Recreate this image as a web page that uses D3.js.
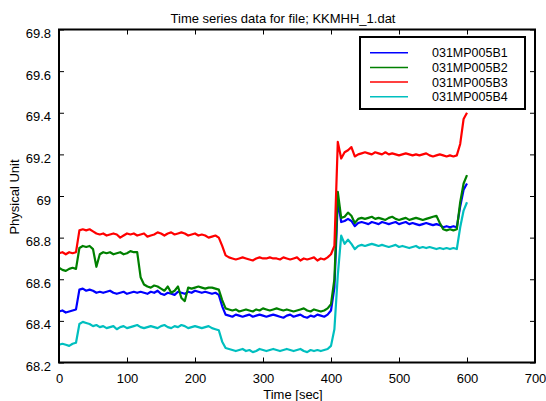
<!DOCTYPE html>
<html lang="en">
<head>
  <meta charset="UTF-8" />
  <title>Time series data for file; KKMHH_1.dat</title>
  <script src="https://d3js.org/d3.v7.min.js"></script>
  <style>
    html, body { margin: 0; padding: 0; background: #fff; }
    svg { display: block; font-family: "Liberation Sans", Arial, sans-serif; }
    .series { fill: none; stroke-width: 2.2; stroke-linejoin: round; }
    .tick line { stroke: #000; stroke-width: 1; }
    .tick text { font-size: 13px; fill: #000; }
  </style>
</head>
<body>
  <div id="chart"></div>

  <script>
    // x ticks and y tick labels as drawn in the figure
    const xTicks = [0, 100, 200, 300, 400, 500, 600, 700];
    const yTicks = [68.2, 68.4, 68.6, 68.8, 69.0, 69.2, 69.4, 69.6, 69.8];
    const yTickLabels = ["68.2", "68.4", "68.6", "68.8", "69", "69.2", "69.4", "69.6", "69.8"];

    const seriesNames = ["031MP005B1", "031MP005B2", "031MP005B3", "031MP005B4"];
    const seriesColors = ["#0000ff", "#008000", "#ff0000", "#00bfbf"];

    // sample times, every 5 sec from 0 to 600
    const timeSec = d3.range(0, 601, 5);

    // values (one per sample time)
    const b1 = [
      68.445, 68.45, 68.44, 68.445, 68.45, 68.455, 68.55, 68.555, 68.545, 68.55,
      68.545, 68.535, 68.54, 68.535, 68.54, 68.545, 68.535, 68.53, 68.535, 68.54,
      68.53, 68.535, 68.54, 68.535, 68.54, 68.535, 68.53, 68.54, 68.535, 68.545,
      68.53, 68.525, 68.535, 68.53, 68.525, 68.54, 68.535, 68.53, 68.54, 68.535,
      68.545, 68.54, 68.535, 68.54, 68.535, 68.53, 68.535, 68.525, 68.47, 68.43,
      68.425, 68.42, 68.43, 68.425, 68.42, 68.425, 68.43, 68.42, 68.425, 68.43,
      68.425, 68.42, 68.425, 68.43, 68.425, 68.42, 68.415, 68.425, 68.43, 68.42,
      68.425, 68.43, 68.42, 68.415, 68.425, 68.42, 68.43, 68.425, 68.42, 68.43,
      68.45, 68.56, 68.98, 68.875, 68.88, 68.89, 68.88, 68.855, 68.87, 68.875,
      68.87, 68.865, 68.875, 68.87, 68.865, 68.875, 68.87, 68.865, 68.87, 68.875,
      68.865, 68.87, 68.875, 68.865, 68.87, 68.865, 68.86, 68.865, 68.87, 68.865,
      68.86, 68.865, 68.86, 68.85, 68.855, 68.85, 68.855, 68.85, 68.95, 69.03,
      69.06
    ];
    const b2 = [
      68.655, 68.645, 68.64, 68.65, 68.655, 68.65, 68.75, 68.76, 68.755, 68.76,
      68.745, 68.66, 68.72, 68.73, 68.725, 68.73, 68.72, 68.725, 68.73, 68.72,
      68.725, 68.735, 68.73, 68.73, 68.61, 68.575, 68.565, 68.56, 68.57, 68.565,
      68.555, 68.545, 68.565, 68.535, 68.545, 68.565, 68.51, 68.495, 68.56, 68.555,
      68.56, 68.565, 68.56, 68.555, 68.56, 68.56, 68.555, 68.55, 68.50, 68.46,
      68.455, 68.45, 68.455, 68.445, 68.45, 68.455, 68.45, 68.445, 68.455, 68.45,
      68.46, 68.455, 68.45, 68.455, 68.46, 68.455, 68.45, 68.455, 68.45, 68.445,
      68.45, 68.455, 68.46, 68.45, 68.445, 68.455, 68.45, 68.445, 68.45, 68.46,
      68.48, 68.60, 69.02, 68.895, 68.90, 68.92, 68.905, 68.87, 68.89, 68.895,
      68.89, 68.895, 68.90, 68.89, 68.895, 68.89, 68.885, 68.895, 68.90, 68.89,
      68.885, 68.89, 68.895, 68.885, 68.89, 68.895, 68.89, 68.885, 68.89, 68.895,
      68.90, 68.905, 68.87, 68.84, 68.835, 68.84, 68.835, 68.84, 68.97, 69.06,
      69.10
    ];
    const b3 = [
      68.725, 68.73, 68.72, 68.73, 68.725, 68.73, 68.835, 68.84, 68.835, 68.84,
      68.83, 68.82, 68.815, 68.82, 68.81, 68.815, 68.82, 68.815, 68.80, 68.81,
      68.82, 68.815, 68.82, 68.81, 68.815, 68.82, 68.805, 68.81, 68.815, 68.825,
      68.82, 68.81, 68.82, 68.825, 68.815, 68.82, 68.825, 68.82, 68.81, 68.815,
      68.82, 68.81, 68.815, 68.81, 68.80, 68.805, 68.81, 68.80, 68.76, 68.715,
      68.705, 68.70, 68.695, 68.70, 68.705, 68.70, 68.695, 68.69, 68.70, 68.705,
      68.70, 68.70, 68.705, 68.70, 68.70, 68.695, 68.705, 68.70, 68.695, 68.70,
      68.705, 68.69, 68.70, 68.695, 68.70, 68.705, 68.69, 68.70, 68.695, 68.705,
      68.72, 68.76, 69.26, 69.18, 69.21, 69.22, 69.235, 69.19, 69.20, 69.205,
      69.21, 69.205, 69.20, 69.21, 69.205, 69.20, 69.21, 69.20, 69.205, 69.20,
      69.195, 69.20, 69.205, 69.20, 69.195, 69.20, 69.195, 69.20, 69.205, 69.195,
      69.19, 69.195, 69.20, 69.195, 69.19, 69.195, 69.19, 69.195, 69.25, 69.37,
      69.40
    ];
    const b4 = [
      68.285, 68.29, 68.285, 68.28, 68.29, 68.295, 68.385, 68.395, 68.39, 68.385,
      68.375, 68.38, 68.37, 68.375, 68.365, 68.37, 68.375, 68.36, 68.37, 68.375,
      68.365, 68.37, 68.375, 68.38, 68.37, 68.365, 68.37, 68.375, 68.37, 68.365,
      68.375, 68.38, 68.37, 68.365, 68.375, 68.37, 68.38, 68.375, 68.365, 68.37,
      68.375, 68.37, 68.365, 68.37, 68.375, 68.365, 68.36, 68.355, 68.30, 68.27,
      68.265, 68.26, 68.255, 68.26, 68.265, 68.255, 68.26, 68.25, 68.255, 68.265,
      68.26, 68.255, 68.26, 68.265, 68.26, 68.255, 68.26, 68.265, 68.26, 68.255,
      68.26, 68.265, 68.255, 68.25, 68.26, 68.255, 68.26, 68.255, 68.26, 68.265,
      68.28, 68.36, 68.62, 68.81, 68.77, 68.79, 68.77, 68.745, 68.76, 68.765,
      68.76, 68.765, 68.77, 68.765, 68.76, 68.765, 68.76, 68.755, 68.76, 68.765,
      68.755, 68.76, 68.755, 68.75, 68.755, 68.76, 68.75, 68.755, 68.75, 68.755,
      68.75, 68.745, 68.75, 68.745, 68.75, 68.745, 68.75, 68.745, 68.85, 68.93,
      68.97
    ];
    const seriesValues = [b1, b2, b3, b4];

    const width = 546, height = 401;
    const plot = { left: 59, right: 535, top: 29.5, bottom: 362.5 };

    const svg = d3.select("#chart").append("svg")
      .attr("width", width)
      .attr("height", height);

    const x = d3.scaleLinear().domain([0, 700]).range([plot.left, plot.right]);
    const y = d3.scaleLinear().domain([68.2, 69.8]).range([plot.bottom, plot.top]);

    // Ticks on all four sides, pointing inward
    const bottomAxis = svg.append("g")
      .attr("transform", `translate(0,${plot.bottom})`)
      .call(d3.axisBottom(x).tickValues(xTicks).tickSizeInner(-5).tickSizeOuter(0));
    bottomAxis.select(".domain").remove();
    bottomAxis.selectAll("text").attr("y", 20).attr("dy", null);

    const topAxis = svg.append("g")
      .attr("transform", `translate(0,${plot.top})`)
      .call(d3.axisTop(x).tickValues(xTicks).tickSizeInner(-5).tickSizeOuter(0).tickFormat(""));
    topAxis.select(".domain").remove();

    const leftAxis = svg.append("g")
      .attr("transform", `translate(${plot.left},0)`)
      .call(d3.axisLeft(y).tickValues(yTicks).tickSizeInner(-5).tickSizeOuter(0)
        .tickFormat((d, i) => yTickLabels[i]));
    leftAxis.select(".domain").remove();
    leftAxis.selectAll("text").attr("x", -8).attr("dy", null).attr("y", 8);

    const rightAxis = svg.append("g")
      .attr("transform", `translate(${plot.right},0)`)
      .call(d3.axisRight(y).tickValues(yTicks).tickSizeInner(-5).tickSizeOuter(0).tickFormat(""));
    rightAxis.select(".domain").remove();

    // Series
    const line = d3.line()
      .x((d, i) => x(timeSec[i]))
      .y(d => y(d));

    seriesValues.forEach((vals, k) => {
      svg.append("path")
        .attr("class", "series")
        .attr("stroke", seriesColors[k])
        .attr("d", line(vals));
    });

    // Axes box
    svg.append("rect")
      .attr("x", plot.left)
      .attr("y", plot.top)
      .attr("width", plot.right - plot.left)
      .attr("height", plot.bottom - plot.top)
      .attr("fill", "none")
      .attr("stroke", "#000")
      .attr("stroke-width", 2);

    // Title and axis labels
    svg.append("text")
      .attr("x", 283).attr("y", 23)
      .attr("text-anchor", "middle")
      .style("font-size", "13px")
      .text("Time series data for file; KKMHH_1.dat");

    svg.append("text")
      .attr("x", 293).attr("y", 399)
      .attr("text-anchor", "middle")
      .style("font-size", "13px")
      .text("Time [sec]");

    svg.append("text")
      .attr("transform", "translate(19,197) rotate(-90)")
      .attr("text-anchor", "middle")
      .style("font-size", "13px")
      .text("Physical Unit");

    // Legend
    const legend = svg.append("g");
    legend.append("rect")
      .attr("x", 360).attr("y", 37)
      .attr("width", 165).attr("height", 72)
      .attr("fill", "#fff")
      .attr("stroke", "#000")
      .attr("stroke-width", 2);

    seriesNames.forEach((name, k) => {
      const ly = 52.7 + k * 14.7;
      legend.append("line")
        .attr("x1", 370).attr("x2", 408)
        .attr("y1", ly).attr("y2", ly)
        .attr("stroke", seriesColors[k])
        .attr("stroke-width", 1.5);
      legend.append("text")
        .attr("x", 432).attr("y", ly + 4.5)
        .style("font-size", "12.5px")
        .text(name);
    });
  </script>
</body>
</html>
